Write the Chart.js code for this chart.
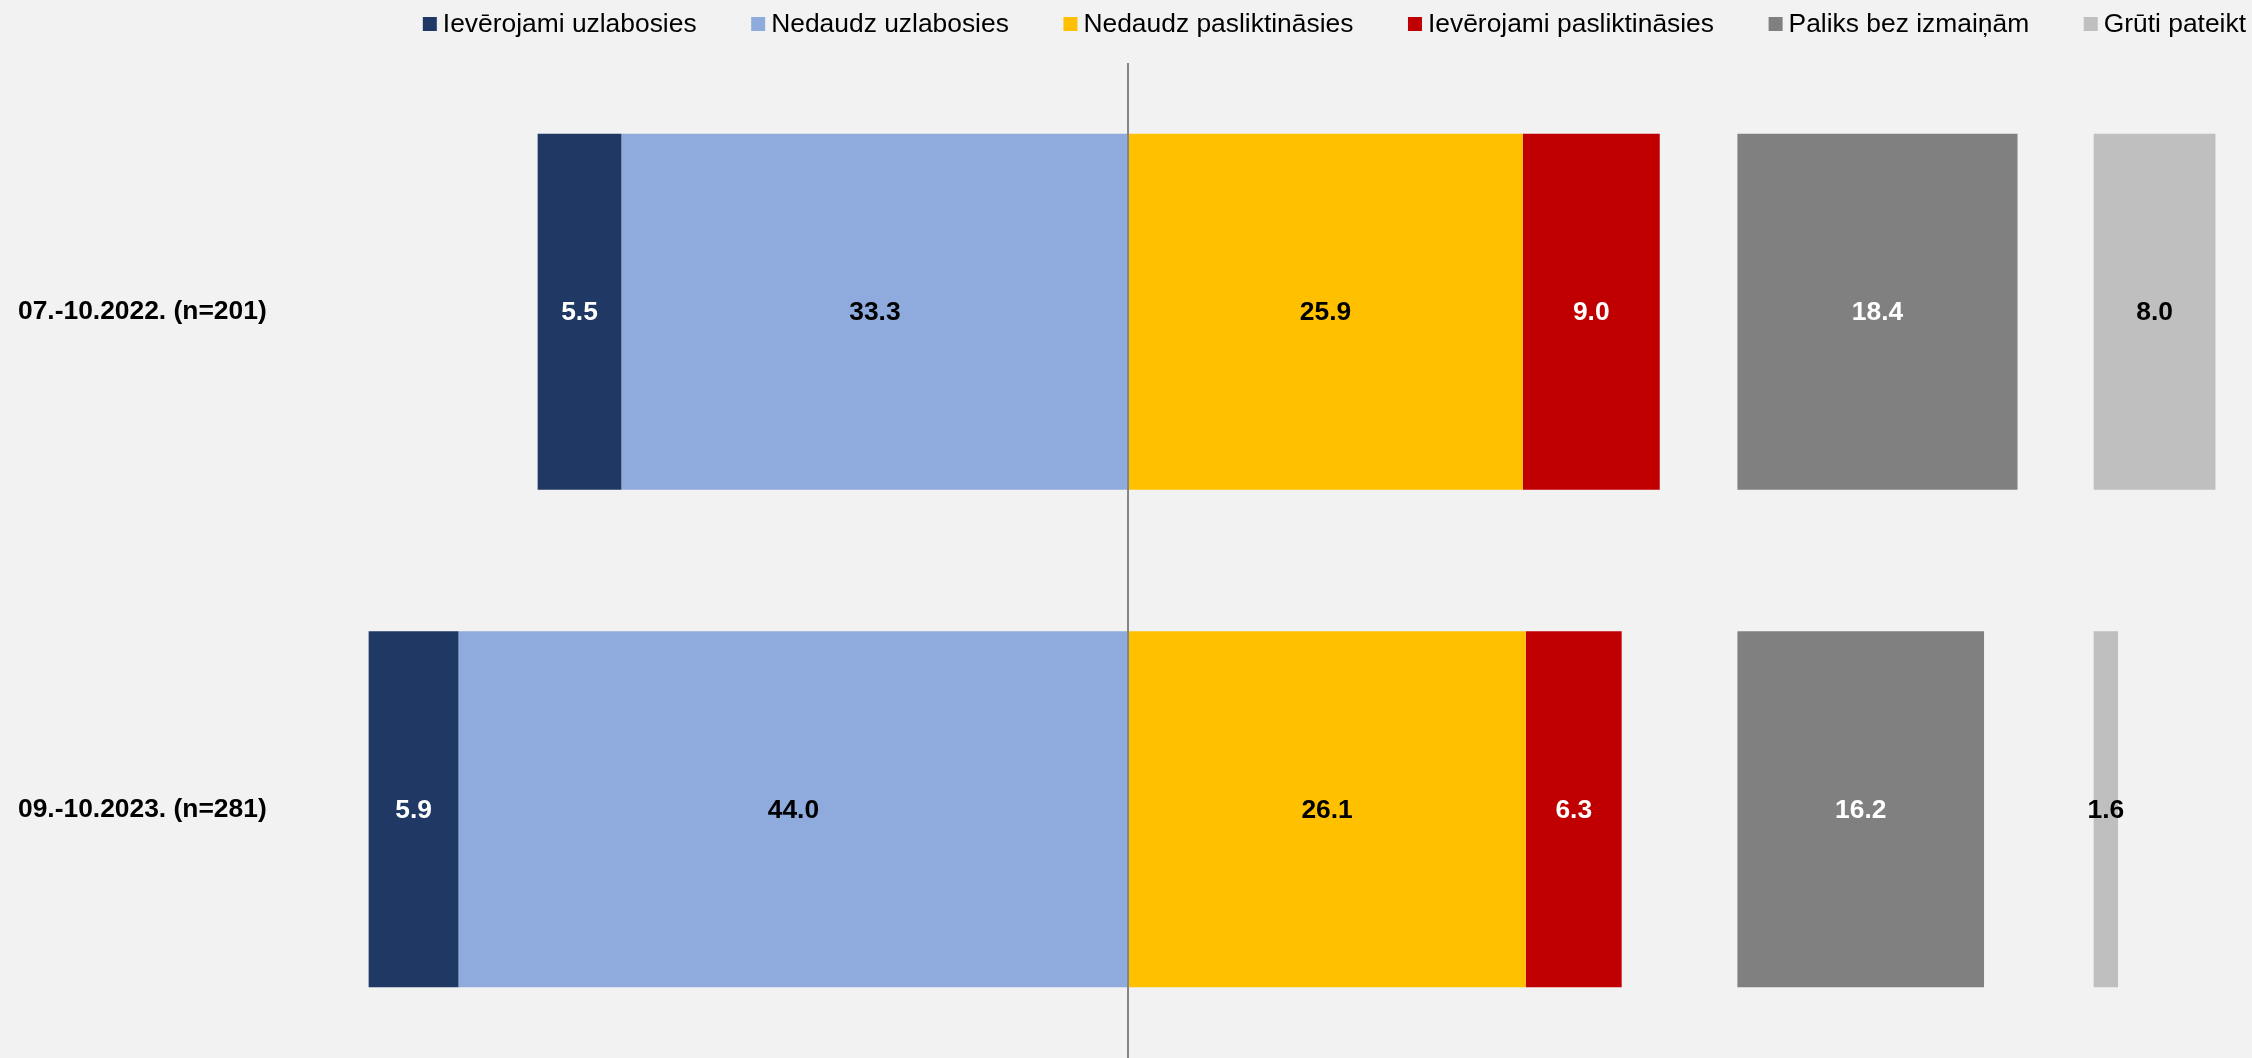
<!DOCTYPE html>
<html>
<head>
<meta charset="utf-8">
<script src="https://cdn.jsdelivr.net/npm/chart.js@4.4.0/dist/chart.umd.min.js"></script>
<style>
html, body { margin: 0; padding: 0; background: #f2f2f2; }
#wrap { width: 2252px; height: 1058px; position: relative; }
</style>
</head>
<body>
<div id="wrap"><canvas id="c"></canvas></div>
<script>
// ---- Data ----
const categories = ['07.-10.2022. (n=201)', '09.-10.2023. (n=281)'];
const seriesNames = ['Ievērojami uzlabosies', 'Nedaudz uzlabosies', 'Nedaudz pasliktināsies', 'Ievērojami pasliktināsies', 'Paliks bez izmaiņām', 'Grūti pateikt'];
const stronglyBetter = [5.5, 5.9];
const slightlyBetter = [33.3, 44.0];
const slightlyWorse  = [25.9, 26.1];
const stronglyWorse  = [9.0, 6.3];
const noChange       = [18.4, 16.2];
const hardToSay      = [8.0, 1.6];

// ---- Styles ----
const barColors   = ['#1F3864', '#8FAADC', '#FFC000', '#C00000', '#808080', '#BFBFBF'];
const labelColors = ['#FFFFFF', '#000000', '#000000', '#FFFFFF', '#FFFFFF', '#000000'];
const NO_CHANGE_START = 40;     // axis offset of the separate "no change" column
const HARD_TO_SAY_START = 63.4; // axis offset of the separate "hard to say" column
const FONT = '"Liberation Sans", Arial, Helvetica, sans-serif';
const FONT_SIZE = 26.4;

const values = [stronglyBetter, slightlyBetter, slightlyWorse, stronglyWorse, noChange, hardToSay];
const ranges = [
  categories.map((_, i) => [-(slightlyBetter[i] + stronglyBetter[i]), -slightlyBetter[i]]),
  categories.map((_, i) => [-slightlyBetter[i], 0]),
  categories.map((_, i) => [0, slightlyWorse[i]]),
  categories.map((_, i) => [slightlyWorse[i], slightlyWorse[i] + stronglyWorse[i]]),
  categories.map((_, i) => [NO_CHANGE_START, NO_CHANGE_START + noChange[i]]),
  categories.map((_, i) => [HARD_TO_SAY_START, HARD_TO_SAY_START + hardToSay[i]])
];

Chart.defaults.font.family = FONT;
Chart.defaults.color = '#000000';

const bgPlugin = {
  id: 'bg',
  beforeDraw(chart) {
    const ctx = chart.ctx;
    ctx.save();
    ctx.fillStyle = '#f2f2f2';
    ctx.fillRect(0, 0, chart.width, chart.height);
    ctx.restore();
  }
};

const valueLabels = {
  id: 'valueLabels',
  afterDatasetsDraw(chart) {
    const ctx = chart.ctx;
    ctx.save();
    ctx.font = 'bold ' + FONT_SIZE + 'px ' + FONT;
    ctx.textAlign = 'center';
    ctx.textBaseline = 'middle';
    chart.data.datasets.forEach((ds, di) => {
      const meta = chart.getDatasetMeta(di);
      meta.data.forEach((el, i) => {
        ctx.fillStyle = labelColors[di];
        ctx.fillText(values[di][i].toFixed(1), (el.x + el.base) / 2, el.y + 1);
      });
    });
    // zero line drawn over the bars
    const x0 = Math.round(chart.scales.x.getPixelForValue(0));
    ctx.strokeStyle = '#858585';
    ctx.lineWidth = 2;
    ctx.beginPath();
    ctx.moveTo(x0, chart.chartArea.top);
    ctx.lineTo(x0, chart.chartArea.bottom);
    ctx.stroke();
    ctx.restore();
  }
};

const topLegend = {
  id: 'topLegend',
  afterDraw(chart) {
    const ctx = chart.ctx;
    const box = 14, textGap = 6, itemGap = 54.6, rightEdge = 2246, midY = 24;
    ctx.save();
    ctx.font = FONT_SIZE + 'px ' + FONT;
    ctx.textBaseline = 'middle';
    ctx.textAlign = 'left';
    const ds = chart.data.datasets;
    const widths = ds.map(d => ctx.measureText(d.label).width);
    let total = 0;
    widths.forEach((w, i) => { total += box + textGap + w + (i > 0 ? itemGap : 0); });
    let x = rightEdge - total;
    ds.forEach((d, i) => {
      ctx.fillStyle = d.backgroundColor;
      ctx.fillRect(x, midY - box / 2, box, box);
      ctx.fillStyle = '#000000';
      ctx.fillText(d.label, x + box + textGap, midY + 1);
      x += box + textGap + widths[i] + itemGap;
    });
    ctx.restore();
  }
};

new Chart(document.getElementById('c'), {
  type: 'bar',
  data: {
    labels: categories,
    datasets: seriesNames.map((name, k) => ({
      label: name,
      data: ranges[k],
      backgroundColor: barColors[k],
      borderWidth: 0,
      grouped: false,
      barPercentage: 0.716,
      categoryPercentage: 1.0
    }))
  },
  options: {
    indexAxis: 'y',
    responsive: true,
    maintainAspectRatio: false,
    animation: false,
    layout: { padding: { top: 63, right: 0, left: 18, bottom: 0 } },
    plugins: {
      tooltip: { enabled: false },
      legend: { display: false }
    },
    scales: {
      x: {
        type: 'linear',
        display: false,
        min: -55,
        max: 73.8
      },
      y: {
        type: 'category',
        position: 'left',
        ticks: {
          crossAlign: 'far',
          color: '#000000',
          font: { size: FONT_SIZE, weight: 'bold', family: FONT }
        },
        grid: { display: false },
        border: { display: false },
        afterFit(scale) {
          scale.width = 273;
          scale.paddingTop = 0;
          scale.paddingBottom = 0;
        }
      }
    }
  },
  plugins: [bgPlugin, valueLabels, topLegend]
});
</script>
</body>
</html>
